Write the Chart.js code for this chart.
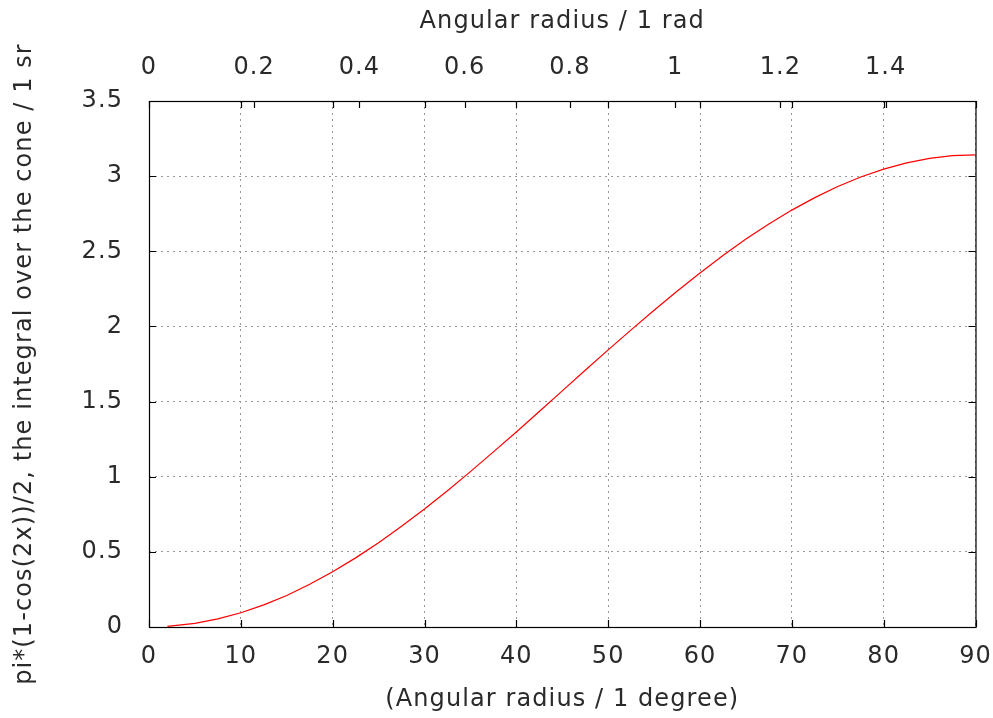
<!DOCTYPE html>
<html>
<head>
<meta charset="utf-8">
<script src="https://cdn.jsdelivr.net/npm/chart.js@4/dist/chart.umd.min.js"></script>
<style>
html,body{margin:0;padding:0;background:#fff;}
#wrap{width:993px;height:718px;}
</style>
</head>
<body>
<div id="wrap"><canvas id="c" width="993" height="718"></canvas></div>
<script>
// Data
const degrees = [2, 5, 7.5, 10, 12.5, 15, 17.5, 20, 22.5, 25, 27.5, 30, 32.5, 35, 37.5, 40, 42.5, 45, 47.5, 50, 52.5, 55, 57.5, 60, 62.5, 65, 67.5, 70, 72.5, 75, 77.5, 80, 82.5, 85, 87.5, 90];
const solidAngle = [0.004, 0.024, 0.054, 0.095, 0.147, 0.21, 0.284, 0.367, 0.46, 0.561, 0.67, 0.785, 0.907, 1.034, 1.165, 1.298, 1.434, 1.571, 1.708, 1.844, 1.977, 2.108, 2.234, 2.356, 2.472, 2.581, 2.682, 2.774, 2.857, 2.931, 2.994, 3.047, 3.088, 3.118, 3.136, 3.142];
const degreeTicks = [0, 10, 20, 30, 40, 50, 60, 70, 80, 90];
const valueTicks = [0, 0.5, 1, 1.5, 2, 2.5, 3, 3.5];
const radianTicks = [0, 0.2, 0.4, 0.6, 0.8, 1, 1.2, 1.4];

const FONT = 'DejaVu Sans';
const TXT = '#2a2a2a';
const fmt = v => String(+(+v).toFixed(3));

const spacing = {
  id: 'spacing',
  beforeLayout(chart) { chart.ctx.letterSpacing = '1.1px'; },
  beforeDraw(chart) { chart.ctx.letterSpacing = '1.1px'; }
};

const frame = {
  id: 'frame',
  afterDatasetsDraw(chart) {
    const {ctx, chartArea: a, scales} = chart;
    ctx.save();
    ctx.strokeStyle = '#000';
    ctx.lineWidth = 1.2;
    ctx.strokeRect(a.left + 0.5, a.top + 0.5, a.right - a.left, a.bottom - a.top);
    const L = 7;
    ctx.beginPath();
    scales.x.ticks.forEach(t => {
      const p = Math.round(scales.x.getPixelForValue(t.value)) + 0.5;
      ctx.moveTo(p, a.bottom); ctx.lineTo(p, a.bottom - L);
      ctx.moveTo(p, a.top); ctx.lineTo(p, a.top + L);
    });
    scales.x2.ticks.forEach(t => {
      const p = Math.round(scales.x2.getPixelForValue(t.value)) + 0.5;
      ctx.moveTo(p, a.top); ctx.lineTo(p, a.top + L);
    });
    scales.y.ticks.forEach(t => {
      const p = Math.round(scales.y.getPixelForValue(t.value)) + 0.5;
      ctx.moveTo(a.left, p); ctx.lineTo(a.left + L, p);
      ctx.moveTo(a.right, p); ctx.lineTo(a.right - L, p);
    });
    ctx.stroke();
    ctx.restore();
  }
};

new Chart(document.getElementById('c'), {
  type: 'line',
  data: {
    datasets: [{
      data: degrees.map((d, i) => ({x: d, y: solidAngle[i]})),
      borderColor: '#ff0000',
      borderWidth: 1.2,
      pointRadius: 0,
      tension: 0,
      fill: false,
      xAxisID: 'x',
      yAxisID: 'y'
    }]
  },
  options: {
    responsive: false,
    animation: false,
    layout: {padding: {left: 0, right: 17.5, top: 0, bottom: 0}},
    plugins: {legend: {display: false}, tooltip: {enabled: false}},
    scales: {
      x: {
        type: 'linear', position: 'bottom', min: 0, max: 90,
        afterBuildTicks: s => { s.ticks = degreeTicks.map(v => ({value: v})); },
        afterFit: s => { s.height = 91; s.paddingLeft = 0; s.paddingRight = 0; },
        grid: {color: '#999', lineWidth: 1, drawTicks: false},
        border: {display: false, dash: [2, 4]},
        ticks: {padding: 15.6, color: TXT, font: {family: FONT, size: 24}, callback: v => fmt(v), maxRotation: 0, autoSkip: false},
        title: {display: true, text: '(Angular radius / 1 degree)', color: TXT, font: {family: FONT, size: 24}, padding: {top: 0, bottom: 3.6}}
      },
      x2: {
        type: 'linear', position: 'top', min: 0, max: Math.PI / 2,
        afterBuildTicks: s => { s.ticks = radianTicks.map(v => ({value: v})); },
        afterFit: s => { s.height = 101; s.paddingLeft = 0; s.paddingRight = 0; },
        grid: {display: false, drawTicks: false},
        border: {display: false},
        ticks: {padding: 18.6, color: TXT, font: {family: FONT, size: 24}, callback: v => fmt(v), maxRotation: 0, autoSkip: false},
        title: {display: true, text: 'Angular radius / 1 rad', color: TXT, font: {family: FONT, size: 24}, padding: {top: 7.6, bottom: 0}}
      },
      y: {
        type: 'linear', position: 'left', min: 0, max: 3.5,
        afterBuildTicks: s => { s.ticks = valueTicks.map(v => ({value: v})); },
        afterFit: s => { s.width = 149; s.paddingTop = 0; s.paddingBottom = 0; },
        grid: {color: '#999', lineWidth: 1, drawTicks: false},
        border: {display: false, dash: [2, 4]},
        ticks: {padding: 26, color: TXT, font: {family: FONT, size: 24}, callback: v => fmt(v), autoSkip: false},
        title: {display: true, text: 'pi*(1-cos(2x))/2, the integral over the cone / 1 sr', color: TXT, font: {family: FONT, size: 24}, padding: {top: 10.6, bottom: 0}}
      }
    }
  },
  plugins: [spacing, frame]
});
</script>
</body>
</html>
